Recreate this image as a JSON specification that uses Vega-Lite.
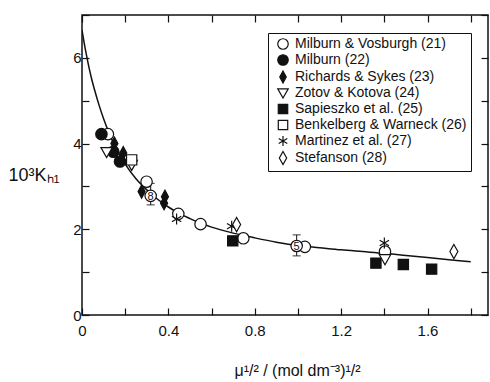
{
  "$schema": "https://vega.github.io/schema/vega-lite/v6.json",
  "width": 406,
  "height": 300,
  "autosize": {"type": "none"},
  "padding": {"left": 82, "top": 15, "right": 2, "bottom": 67},
  "background": "white",
  "config": {
    "view": {"stroke": "#111", "strokeWidth": 1.5},
    "font": "Liberation Sans",
    "axis": {"grid": false, "domain": false, "tickColor": "#111", "tickSize": -7, "tickWidth": 1.2, "labelColor": "#111", "titleColor": "#111", "labelFont": "Liberation Sans", "titleFont": "Liberation Sans", "labelFontSize": 15, "titleFontSize": 16, "titleFontWeight": "normal"},
    "legend": {"labelFont": "Liberation Sans", "labelFontSize": 14, "labelLimit": 300, "labelColor": "#111", "symbolStrokeColor": "#111", "symbolStrokeWidth": 1.2, "symbolSize": 110}
  },
  "datasets": {
    "curve": [
      {"x": 0, "y": 6.65}, {"x": 0.01, "y": 6.35}, {"x": 0.02, "y": 6.08}, {"x": 0.03, "y": 5.83},
      {"x": 0.045, "y": 5.5}, {"x": 0.06, "y": 5.22}, {"x": 0.08, "y": 4.88}, {"x": 0.1, "y": 4.58},
      {"x": 0.125, "y": 4.25}, {"x": 0.15, "y": 3.97}, {"x": 0.175, "y": 3.73}, {"x": 0.2, "y": 3.52},
      {"x": 0.25, "y": 3.18}, {"x": 0.3, "y": 2.92}, {"x": 0.35, "y": 2.7}, {"x": 0.4, "y": 2.52},
      {"x": 0.45, "y": 2.37}, {"x": 0.5, "y": 2.25}, {"x": 0.55, "y": 2.14}, {"x": 0.6, "y": 2.05},
      {"x": 0.7, "y": 1.91}, {"x": 0.8, "y": 1.8}, {"x": 0.9, "y": 1.7}, {"x": 1.0, "y": 1.62},
      {"x": 1.1, "y": 1.57}, {"x": 1.2, "y": 1.52}, {"x": 1.3, "y": 1.48}, {"x": 1.4, "y": 1.44},
      {"x": 1.5, "y": 1.39}, {"x": 1.6, "y": 1.34}, {"x": 1.7, "y": 1.29}, {"x": 1.8, "y": 1.24}
    ],
    "errors": [
      {"x": 0.318, "lo": 2.57, "hi": 3.07},
      {"x": 0.994, "lo": 1.38, "hi": 1.87}
    ],
    "points": [
      {"series": "Milburn & Vosburgh (21)", "x": 0.12, "y": 4.22},
      {"series": "Milburn & Vosburgh (21)", "x": 0.299, "y": 3.11},
      {"series": "Milburn & Vosburgh (21)", "x": 0.446, "y": 2.36},
      {"series": "Milburn & Vosburgh (21)", "x": 0.549, "y": 2.12},
      {"series": "Milburn & Vosburgh (21)", "x": 0.747, "y": 1.79},
      {"series": "Milburn & Vosburgh (21)", "x": 1.032, "y": 1.59},
      {"series": "Milburn & Vosburgh (21)", "x": 1.403, "y": 1.48},
      {"series": "Milburn  (22)", "x": 0.09, "y": 4.22},
      {"series": "Milburn  (22)", "x": 0.145, "y": 3.81},
      {"series": "Milburn  (22)", "x": 0.176, "y": 3.58},
      {"series": "Richards & Sykes (23)", "x": 0.15, "y": 4.0},
      {"series": "Richards & Sykes (23)", "x": 0.191, "y": 3.78},
      {"series": "Richards & Sykes (23)", "x": 0.276, "y": 2.88},
      {"series": "Richards & Sykes (23)", "x": 0.384, "y": 2.76},
      {"series": "Richards & Sykes (23)", "x": 0.38, "y": 2.61},
      {"series": "Zotov & Kotova (24)", "x": 0.114, "y": 3.8},
      {"series": "Zotov & Kotova (24)", "x": 0.23, "y": 3.5},
      {"series": "Zotov & Kotova (24)", "x": 1.403, "y": 1.3},
      {"series": "Sapieszko et al. (25)", "x": 0.698, "y": 1.73},
      {"series": "Sapieszko et al. (25)", "x": 1.361, "y": 1.21},
      {"series": "Sapieszko et al. (25)", "x": 1.488, "y": 1.18},
      {"series": "Sapieszko et al. (25)", "x": 1.619, "y": 1.07},
      {"series": "Benkelberg & Warneck (26)", "x": 0.23, "y": 3.62},
      {"series": "Martinez et al. (27)", "x": 0.438, "y": 2.24},
      {"series": "Martinez et al. (27)", "x": 0.693, "y": 2.07},
      {"series": "Martinez et al. (27)", "x": 1.4, "y": 1.68},
      {"series": "Stefanson (28)", "x": 0.716, "y": 2.11},
      {"series": "Stefanson (28)", "x": 1.722, "y": 1.48},
      {"series": "Milburn & Vosburgh (21)", "x": 0.318, "y": 2.78, "label": "8"},
      {"series": "Milburn & Vosburgh (21)", "x": 0.994, "y": 1.61, "label": "5"}
    ]
  },
  "resolve": {"axis": {"x": "independent", "y": "independent"}},
  "layer": [
    {
      "data": {"name": "curve"},
      "mark": {"type": "line", "color": "#111", "strokeWidth": 1.5, "interpolate": "monotone", "clip": true},
      "encoding": {
        "x": {"field": "x", "type": "quantitative", "scale": {"domain": [0, 1.88], "nice": false, "zero": false},
          "axis": {"orient": "bottom", "values": [0, 0.2, 0.4, 0.6, 0.8, 1.0, 1.2, 1.4, 1.6, 1.8], "format": "~g", "labelExpr": "round(datum.value*10) % 4 == 0 ? datum.label : ''", "labelPadding": 15, "labelFlush": false,
            "title": "μ¹/² / (mol dm⁻³)¹/²", "titleX": 215, "titleY": 55, "titleAlign": "center", "titleBaseline": "middle"}},
        "y": {"field": "y", "type": "quantitative", "scale": {"domain": [0, 7], "nice": false},
          "axis": {"orient": "left", "values": [0, 1, 2, 3, 4, 5, 6, 7], "labelExpr": "datum.value % 2 == 0 ? datum.label : ''", "labelPadding": 8, "labelFlush": false,
            "title": "10³Kₕ₁", "titleFontSize": 18, "titleAngle": 0, "titleX": -74, "titleY": 160, "titleAlign": "left", "titleBaseline": "middle"}}
      }
    },
    {
      "data": {"name": "errors"},
      "mark": {"type": "rule", "color": "#111", "strokeWidth": 1},
      "encoding": {
        "x": {"field": "x", "type": "quantitative", "axis": null},
        "y": {"field": "lo", "type": "quantitative", "axis": null},
        "y2": {"field": "hi"}
      }
    },
    {
      "data": {"name": "errors"},
      "mark": {"type": "tick", "orient": "horizontal", "color": "#111", "size": 8, "thickness": 1.2},
      "encoding": {
        "x": {"field": "x", "type": "quantitative", "axis": null},
        "y": {"field": "lo", "type": "quantitative", "axis": null}
      }
    },
    {
      "data": {"name": "errors"},
      "mark": {"type": "tick", "orient": "horizontal", "color": "#111", "size": 8, "thickness": 1.2},
      "encoding": {
        "x": {"field": "x", "type": "quantitative", "axis": {"orient": "top", "values": [0, 0.2, 0.4, 0.6, 0.8, 1.0, 1.2, 1.4, 1.6, 1.8], "labels": false, "title": null}},
        "y": {"field": "hi", "type": "quantitative", "axis": {"orient": "right", "values": [0, 1, 2, 3, 4, 5, 6, 7], "labels": false, "title": null}}
      }
    },
    {
      "data": {"name": "points"},
      "mark": {"type": "point", "filled": true, "strokeWidth": 1.2, "opacity": 1, "size": 130},
      "encoding": {
        "x": {"field": "x", "type": "quantitative", "axis": null},
        "y": {"field": "y", "type": "quantitative", "axis": null},
        "shape": {"field": "series", "type": "nominal",
          "scale": {"domain": ["Milburn & Vosburgh (21)", "Milburn  (22)", "Richards & Sykes (23)", "Zotov & Kotova (24)", "Sapieszko et al. (25)", "Benkelberg & Warneck (26)", "Martinez et al. (27)", "Stefanson (28)"],
            "range": ["circle", "circle", "M0,-1.15L0.62,0L0,1.15L-0.62,0Z", "M-1,-0.8L1,-0.8L0,0.95Z", "M-0.9,-0.9L0.9,-0.9L0.9,0.9L-0.9,0.9Z", "M-0.9,-0.9L0.9,-0.9L0.9,0.9L-0.9,0.9Z", "M0,-0.95L0,0.95M-0.82,-0.48L0.82,0.48M-0.82,0.48L0.82,-0.48", "M0,-1.25L0.7,0L0,1.25L-0.7,0Z"]},
          "legend": {"title": null, "orient": "none", "legendX": 186, "legendY": 18, "strokeColor": "#111", "padding": 4, "symbolOffset": 4, "labelOffset": 5, "rowPadding": 0, "fillColor": "white",
            "encode": {"symbols": {"update": {"strokeWidth": {"value": 1.2}}}}}},
        "fill": {"field": "series", "type": "nominal",
          "scale": {"domain": ["Milburn & Vosburgh (21)", "Milburn  (22)", "Richards & Sykes (23)", "Zotov & Kotova (24)", "Sapieszko et al. (25)", "Benkelberg & Warneck (26)", "Martinez et al. (27)", "Stefanson (28)"],
            "range": ["white", "#111", "#111", "white", "#111", "white", "#111", "white"]},
          "legend": null},
        "stroke": {"field": "series", "type": "nominal",
          "scale": {"domain": ["Milburn & Vosburgh (21)", "Milburn  (22)", "Richards & Sykes (23)", "Zotov & Kotova (24)", "Sapieszko et al. (25)", "Benkelberg & Warneck (26)", "Martinez et al. (27)", "Stefanson (28)"],
            "range": ["#111", "#111", "#111", "#111", "#111", "#111", "#111", "#111"]},
          "legend": null}
      }
    },
    {
      "data": {"name": "points"},
      "transform": [{"filter": "datum.label"}],
      "mark": {"type": "text", "fontSize": 11, "color": "#111", "baseline": "middle", "align": "center", "dy": 1},
      "encoding": {
        "x": {"field": "x", "type": "quantitative", "axis": null},
        "y": {"field": "y", "type": "quantitative", "axis": null},
        "text": {"field": "label"}
      }
    }
  ]
}
